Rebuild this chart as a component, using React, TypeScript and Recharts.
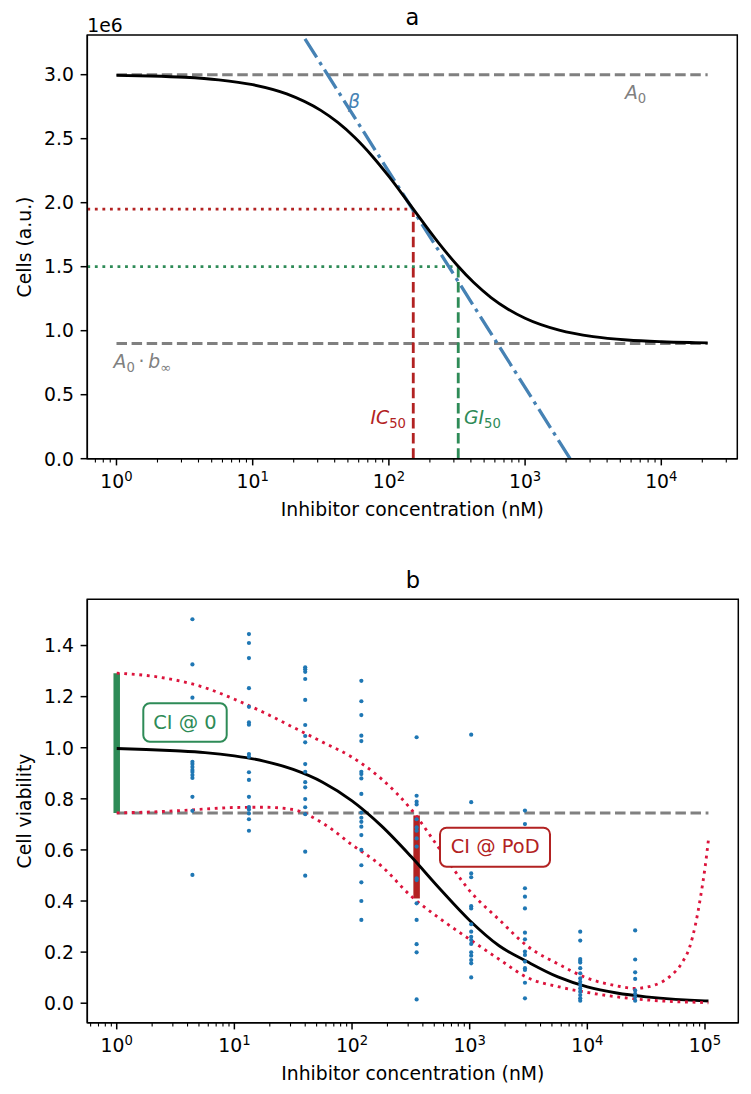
import React from 'react';
import { ComposedChart, Line, Scatter, XAxis, YAxis, ReferenceArea } from 'recharts';

const FONT = "'DejaVu Sans', sans-serif";
const TICK_FS = 18.8;
const SUP_FS = 13.2;

// ---------------- Panel a ----------------
const aXDomain = [0.6106, 36140];
const aYDomain = [0, 3310000];
const aYTicks = [0, 500000, 1000000, 1500000, 2000000, 2500000, 3000000];
const aXMajorTicks = [1, 10, 100, 1000, 10000];
const aXMinorTicks = [0.7, 0.8, 0.9, 2, 3, 4, 5, 6, 7, 8, 9, 20, 30, 40, 50, 60, 70, 80, 90,
  200, 300, 400, 500, 600, 700, 800, 900, 2000, 3000, 4000, 5000, 6000, 7000, 8000, 9000, 20000, 30000];
const aCurveX = [1, 1.778, 3.162, 5.623, 10, 17.78, 31.62, 42.17, 56.23, 74.99, 100, 133.4, 177.8, 237.1,
  316.2, 421.7, 562.3, 749.9, 1000, 1778, 3162, 5623, 10000, 17780, 21900];
const aCurveY = [2995000, 2990000, 2980000, 2960000, 2922000, 2850000, 2721000, 2627000, 2509000, 2367000,
  2205000, 2028000, 1848000, 1673000, 1513000, 1374000, 1259000, 1168000, 1097000, 1004000, 953000,
  927000, 914000, 907000, 905000];
const aPlateauX = [1, 21900];
const aTopY = [3000000, 3000000];
const aBottomY = [900000, 900000];
const aIC50X = 151;
const aIC50Y = 1950000;
const aGI50X = 323;
const aGI50Y = 1500000;
const aBetaX = [24.2, 2140];
const aBetaY = [3280000, 0];

// ---------------- Panel b ----------------
const bXDomain = [0.5623, 191900];
const bYDomain = [-0.0763, 1.581];
const bYTicks = [0, 0.2, 0.4, 0.6, 0.8, 1.0, 1.2, 1.4];
const bXMajorTicks = [1, 10, 100, 1000, 10000, 100000];
const bXMinorTicks = [0.6, 0.7, 0.8, 0.9, 2, 3, 4, 5, 6, 7, 8, 9, 20, 30, 40, 50, 60, 70, 80, 90,
  200, 300, 400, 500, 600, 700, 800, 900, 2000, 3000, 4000, 5000, 6000, 7000, 8000, 9000,
  20000, 30000, 40000, 50000, 60000, 70000, 80000, 90000];

const bConc = [4.4, 13.3, 40, 120, 354, 1030, 2950, 8700, 25500];
const bCol1 = [1.503, 1.326, 1.196, 0.945, 0.936, 0.925, 0.913, 0.905, 0.893, 0.882, 0.808, 0.753, 0.502];
const bCol2 = [1.445, 1.41, 1.351, 1.233, 1.16, 1.099, 1.09, 0.975, 0.965, 0.904, 0.874, 0.808, 0.768, 0.758, 0.743, 0.72, 0.675];
const bCol3 = [1.315, 1.307, 1.297, 1.269, 1.187, 1.089, 1.046, 1.021, 0.936, 0.906, 0.865, 0.845, 0.799, 0.767, 0.74, 0.593, 0.499];
const bCol4 = [1.262, 1.182, 1.128, 1.047, 1.026, 0.906, 0.897, 0.88, 0.819, 0.746, 0.726, 0.71, 0.691, 0.658, 0.6, 0.54, 0.473, 0.4, 0.326];
const bCol5 = [1.041, 0.812, 0.789, 0.778, 0.72, 0.688, 0.675, 0.645, 0.613, 0.489, 0.482, 0.391, 0.326, 0.231, 0.199, 0.015];
const bCol6 = [1.051, 0.787, 0.508, 0.493, 0.38, 0.371, 0.309, 0.28, 0.26, 0.247, 0.232, 0.199, 0.186, 0.169, 0.156, 0.101];
const bCol7 = [0.754, 0.701, 0.45, 0.417, 0.371, 0.276, 0.25, 0.202, 0.189, 0.163, 0.137, 0.13, 0.08, 0.019];
const bCol8 = [0.28, 0.245, 0.173, 0.166, 0.159, 0.137, 0.117, 0.097, 0.084, 0.071, 0.058, 0.045, 0.032, 0.019, 0.01];
const bCol9 = [0.285, 0.171, 0.121, 0.095, 0.05, 0.037, 0.024, 0.01];
const bColumns = [bCol1, bCol2, bCol3, bCol4, bCol5, bCol6, bCol7, bCol8, bCol9];

const bFitX = [1, 1.778, 3.162, 5.623, 10, 17.78, 31.62, 56.23, 100, 177.8, 316.2, 562.3, 1000, 1778,
  3162, 5623, 10000, 17780, 31620, 56230, 100000, 107000];
const bFitY = [0.997, 0.993, 0.988, 0.981, 0.968, 0.948, 0.915, 0.865, 0.792, 0.694, 0.575, 0.446, 0.324,
  0.225, 0.16, 0.103, 0.064, 0.04, 0.025, 0.015, 0.009, 0.0085];
const bUpperX = [1, 1.778, 3.162, 5.623, 10, 17.78, 31.62, 56.23, 100, 177.8, 316.2, 562.3, 1000, 1778,
  3162, 5623, 10000, 17780, 25120, 35480, 50120, 63100, 74130, 83180, 91200, 100000, 107000];
const bUpperY = [1.292, 1.283, 1.265, 1.235, 1.19, 1.138, 1.08, 1.022, 0.963, 0.878, 0.76, 0.6, 0.44,
  0.327, 0.22, 0.154, 0.098, 0.068, 0.058, 0.068, 0.104, 0.155, 0.22, 0.31, 0.41, 0.53, 0.64];
const bLowerX = [1, 1.778, 3.162, 5.623, 10, 17.78, 31.62, 56.23, 100, 177.8, 316.2, 562.3, 1000, 1778,
  3162, 5623, 10000, 17780, 31620, 56230, 100000, 107000];
const bLowerY = [0.745, 0.748, 0.753, 0.76, 0.766, 0.767, 0.758, 0.705, 0.62, 0.537, 0.42, 0.33, 0.25,
  0.172, 0.098, 0.065, 0.042, 0.025, 0.013, 0.006, 0.002, 0.001];
const bRefX = [1, 107000];
const bRefY = [0.745, 0.745];
const bCI0X = 1;
const bCI0Range = [0.745, 1.292];
const bPoDX = 354;
const bPoDRange = [0.41, 0.735];

// ---------------- helpers ----------------
const pts = (xs: number[], ys: number[]) => xs.map((x, i) => ({ x, y: ys[i] }));

const bPoints = bColumns.flatMap((col, i) => col.map((y) => ({ x: bConc[i], y })));

function makeLogTick(majors: number[]) {
  return (props: any) => {
    const { x, y, payload } = props;
    const v = payload.value as number;
    const isMajor = majors.includes(v);
    const exp = Math.round(Math.log10(v));
    return (
      <g>
        <line x1={x} x2={x} y1={y} y2={y + (isMajor ? 6.7 : 3.8)} stroke="#000" strokeWidth={isMajor ? 1.5 : 1.1} />
        {isMajor && (
          <text x={x} y={y + 29.4} textAnchor="middle" fontFamily={FONT} fontSize={TICK_FS} fill="#000">
            10<tspan dy={-7.6} fontSize={SUP_FS}>{exp}</tspan>
          </text>
        )}
      </g>
    );
  };
}

function makeYTick(fmt: (v: number) => string) {
  return (props: any) => {
    const { x, y, payload } = props;
    return (
      <g>
        <line x1={x - 6.7} x2={x} y1={y} y2={y} stroke="#000" strokeWidth={1.5} />
        <text x={x - 13.4} y={y + 6.8} textAnchor="end" fontFamily={FONT} fontSize={TICK_FS} fill="#000">
          {fmt(payload.value)}
        </text>
      </g>
    );
  };
}

const lineCommon = {
  dot: false,
  activeDot: false,
  isAnimationActive: false,
  legendType: 'none' as const,
  dataKey: 'y',
};

const GRAY = '#808080';
const RED = '#b22222';
const GREEN = '#2e8b57';
const BLUE = '#4682b4';
const CRIMSON = '#dc143c';
const DASH = '10.5 4.6';
const DOT = '2.85 4.7';

function PanelA() {
  return (
    <ComposedChart width={751} height={545} margin={{ top: 35, right: 13.7, bottom: 26.3, left: 27.3 }}>
      <XAxis type="number" dataKey="x" scale="log" domain={aXDomain} allowDataOverflow
        ticks={[...aXMinorTicks, ...aXMajorTicks]} interval={0} tickSize={0} tickMargin={0} tickLine={false}
        axisLine={{ stroke: '#000', strokeWidth: 1.5 }} height={60} tick={makeLogTick(aXMajorTicks)} />
      <YAxis type="number" dataKey="y" domain={aYDomain} allowDataOverflow ticks={aYTicks} interval={0}
        tickSize={0} tickMargin={0} tickLine={false} width={60}
        axisLine={{ stroke: '#000', strokeWidth: 1.5 }} tick={makeYTick((v) => (v / 1e6).toFixed(1))} />
      <ReferenceArea x1={aXDomain[0]} x2={aXDomain[1]} y1={aYDomain[0]} y2={aYDomain[1]} fill="none"
        fillOpacity={0} stroke="#000" strokeWidth={1.5} ifOverflow="visible" />
      <Line {...lineCommon} data={pts(aPlateauX, aTopY)} type="linear" stroke={GRAY} strokeWidth={3} strokeDasharray={DASH} />
      <Line {...lineCommon} data={pts(aPlateauX, aBottomY)} type="linear" stroke={GRAY} strokeWidth={3} strokeDasharray={DASH} />
      <Line {...lineCommon} data={pts([aXDomain[0], aIC50X], [aIC50Y, aIC50Y])} type="linear" stroke={RED} strokeWidth={2.85} strokeDasharray={DOT} />
      <Line {...lineCommon} data={pts([aIC50X, aIC50X], [0, aIC50Y])} type="linear" stroke={RED} strokeWidth={2.85} strokeDasharray={DASH} />
      <Line {...lineCommon} data={pts([aXDomain[0], aGI50X], [aGI50Y, aGI50Y])} type="linear" stroke={GREEN} strokeWidth={2.85} strokeDasharray={DOT} />
      <Line {...lineCommon} data={pts([aGI50X, aGI50X], [0, aGI50Y])} type="linear" stroke={GREEN} strokeWidth={2.85} strokeDasharray={DASH} />
      <Line {...lineCommon} data={pts(aBetaX, aBetaY)} type="linear" stroke={BLUE} strokeWidth={3.3} strokeDasharray="22 5.5 3.5 5.5" />
      <Line {...lineCommon} data={pts(aCurveX, aCurveY)} type="monotone" stroke="#000" strokeWidth={2.85} />
    </ComposedChart>
  );
}

function PanelB() {
  return (
    <ComposedChart width={751} height={544} margin={{ top: 49.3, right: 12.7, bottom: 21.3, left: 27.3 }}>
      <XAxis type="number" dataKey="x" scale="log" domain={bXDomain} allowDataOverflow
        ticks={[...bXMinorTicks, ...bXMajorTicks]} interval={0} tickSize={0} tickMargin={0} tickLine={false}
        axisLine={{ stroke: '#000', strokeWidth: 1.5 }} height={50} tick={makeLogTick(bXMajorTicks)} />
      <YAxis type="number" dataKey="y" domain={bYDomain} allowDataOverflow ticks={bYTicks} interval={0}
        tickSize={0} tickMargin={0} tickLine={false} width={60}
        axisLine={{ stroke: '#000', strokeWidth: 1.5 }} tick={makeYTick((v) => v.toFixed(1))} />
      <ReferenceArea x1={bXDomain[0]} x2={bXDomain[1]} y1={bYDomain[0]} y2={bYDomain[1]} fill="none"
        fillOpacity={0} stroke="#000" strokeWidth={1.5} ifOverflow="visible" />
      <Line {...lineCommon} data={pts([bCI0X, bCI0X], bCI0Range)} type="linear" stroke={GREEN} strokeWidth={6.5} />
      <Line {...lineCommon} data={pts([bPoDX, bPoDX], bPoDRange)} type="linear" stroke={RED} strokeWidth={6.5} />
      <Line {...lineCommon} data={pts(bRefX, bRefY)} type="linear" stroke={GRAY} strokeWidth={3} strokeDasharray={DASH} />
      <Scatter data={bPoints} dataKey="y" isAnimationActive={false} legendType="none"
        shape={(p: any) => <circle cx={p.cx} cy={p.cy} r={2.1} fill="#1f77b4" />} />
      <Line {...lineCommon} data={pts(bFitX, bFitY)} type="monotone" stroke="#000" strokeWidth={2.85} />
      <Line {...lineCommon} data={pts(bUpperX, bUpperY)} type="monotone" stroke={CRIMSON} strokeWidth={2.85} strokeDasharray={DOT} />
      <Line {...lineCommon} data={pts(bLowerX, bLowerY)} type="monotone" stroke={CRIMSON} strokeWidth={2.85} strokeDasharray={DOT} />
    </ComposedChart>
  );
}

function Overlay() {
  const t = { fontFamily: FONT, fontSize: TICK_FS };
  return (
    <svg width={751} height={1094} style={{ position: 'absolute', left: 0, top: 0, pointerEvents: 'none' }}>
      {/* Panel a texts */}
      <text x={412.3} y={25} textAnchor="middle" fontFamily={FONT} fontSize={22.5} fill="#000">a</text>
      <text x={87.3} y={31.7} {...t} fill="#000">1e6</text>
      <text x={30.7} y={247} textAnchor="middle" {...t} fill="#000" transform="rotate(-90 30.7 247)">Cells (a.u.)</text>
      <text x={412.3} y={516} textAnchor="middle" {...t} fill="#000">Inhibitor concentration (nM)</text>
      <text x={625} y={99} {...t} fill={GRAY}>
        <tspan fontStyle="italic">A</tspan><tspan fontSize={SUP_FS} dy={3.5}>0</tspan>
      </text>
      <text x={113.6} y={368} {...t} fill={GRAY}>
        <tspan fontStyle="italic">A</tspan><tspan fontSize={SUP_FS} dy={3.5}>0</tspan>
        <tspan dy={-3.5}>{'\u2009\u00b7\u2009'}</tspan><tspan fontStyle="italic">b</tspan>
        <tspan fontSize={SUP_FS} dy={3.5}>{'\u221e'}</tspan>
      </text>
      <text x={348} y={108} {...t} fill={BLUE} fontStyle="italic">β</text>
      <text x={406} y={424} textAnchor="end" {...t} fill={RED}>
        <tspan fontStyle="italic">IC</tspan><tspan fontSize={SUP_FS} dy={3.5}>50</tspan>
      </text>
      <text x={464} y={424} {...t} fill={GREEN}>
        <tspan fontStyle="italic">GI</tspan><tspan fontSize={SUP_FS} dy={3.5}>50</tspan>
      </text>

      {/* Panel b texts */}
      <text x={412.8} y={588} textAnchor="middle" fontFamily={FONT} fontSize={22.5} fill="#000">b</text>
      <text x={30.7} y={811} textAnchor="middle" {...t} fill="#000" transform="rotate(-90 30.7 811)">Cell viability</text>
      <text x={412.8} y={1080.4} textAnchor="middle" {...t} fill="#000">Inhibitor concentration (nM)</text>
      <rect x={143.3} y={703.3} width={83.4} height={38.4} rx={6.5} fill="#fff" stroke={GREEN} strokeWidth={2} />
      <text x={185} y={728.8} textAnchor="middle" fontFamily={FONT} fontSize={19.4} fill={GREEN}>CI @ 0</text>
      <rect x={440} y={827.7} width={110} height={39} rx={6.5} fill="#fff" stroke={RED} strokeWidth={2} />
      <text x={495.2} y={852.9} textAnchor="middle" fontFamily={FONT} fontSize={19.4} fill={RED}>CI @ PoD</text>
    </svg>
  );
}

export default function App() {
  return (
    <div style={{ position: 'absolute', left: 0, top: 0, width: 751, height: 1094, background: '#fff' }}>
      <div style={{ position: 'absolute', left: 0, top: 0 }}>
        <PanelA />
      </div>
      <div style={{ position: 'absolute', left: 0, top: 550 }}>
        <PanelB />
      </div>
      <Overlay />
    </div>
  );
}
